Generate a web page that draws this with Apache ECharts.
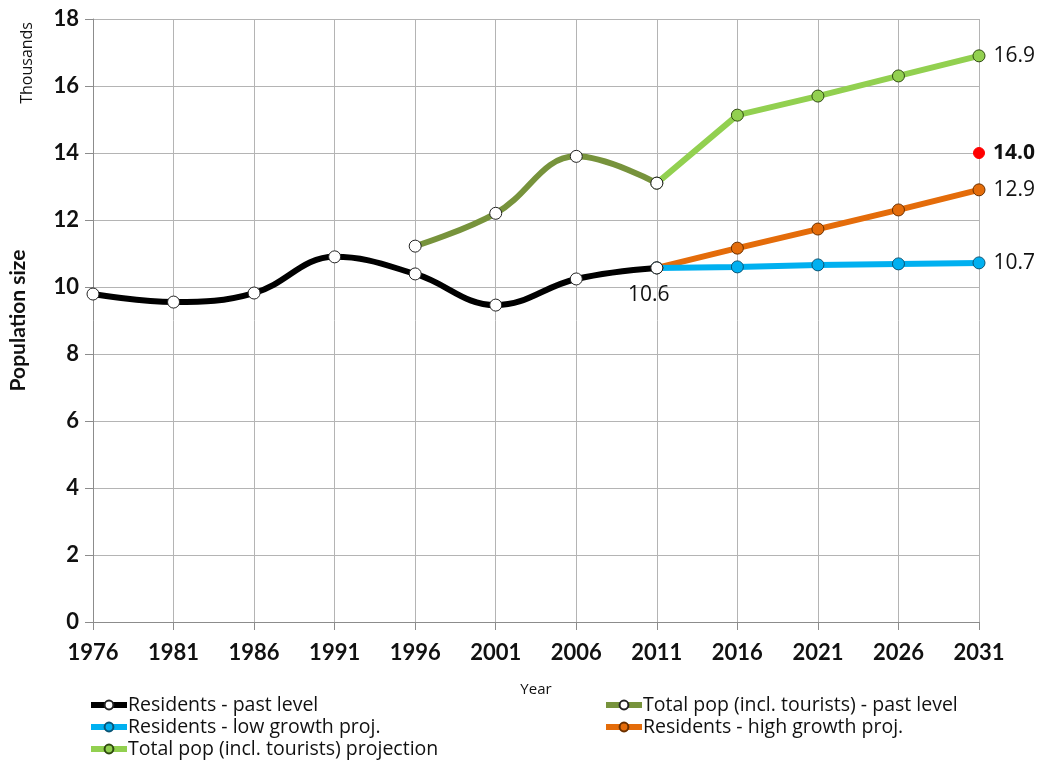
<!DOCTYPE html>
<html>
<head>
<meta charset="utf-8">
<script src="https://cdn.jsdelivr.net/npm/echarts@6/dist/echarts.min.js"></script>
<style>html,body{margin:0;padding:0;background:#fff}#c{width:1040px;height:763px}</style>
</head>
<body>
<div id="c"></div>
<script>
var years = ['1976','1981','1986','1991','1996','2001','2006','2011','2016','2021','2026','2031'];
var residentsPast = [9.79, 9.55, 9.82, 10.9, 10.39, 9.46, 10.24, 10.57, null, null, null, null];
var totalPast = [null, null, null, null, 11.22, 12.2, 13.9, 13.1, null, null, null, null];
var residentsLow = [null, null, null, null, null, null, null, 10.57, 10.6, 10.66, 10.69, 10.72];
var residentsHigh = [null, null, null, null, null, null, null, 10.57, 11.16, 11.73, 12.3, 12.9];
var totalProj = [null, null, null, null, null, null, null, 13.1, 15.13, 15.7, 16.3, 16.9];
var marker = [null, null, null, null, null, null, null, null, null, null, null, 14.0];
var yTicks = [0, 2, 4, 6, 8, 10, 12, 14, 16, 18];
var legendItems = [
  { name: 'Residents - past level', left: 88, top: 695 },
  { name: 'Residents - low growth proj.', left: 88, top: 717 },
  { name: 'Total pop (incl. tourists) projection', left: 88, top: 739 },
  { name: 'Total pop (incl. tourists) - past level', left: 603, top: 695 },
  { name: 'Residents - high growth proj.', left: 603, top: 717 }
];

var FONT = 'Lato';
var LFONT = 'Open Sans';
function lastLabel(arr, text, bold) {
  return arr.map(function (v, i) {
    if (i === arr.length - 1 && v != null) {
      return { value: v, label: { show: true, position: 'right', distance: 8, formatter: text,
        fontFamily: LFONT, fontSize: 21, fontWeight: bold ? 'bold' : 'normal', color: '#111' } };
    }
    return v;
  });
}
var rp = residentsPast.map(function (v, i) {
  if (i === 7) return { value: v, label: { show: true, position: 'bottom', offset: [-8, 5], formatter: '10.6',
    fontFamily: LFONT, fontSize: 21, color: '#111' } };
  return v;
});

var legends = legendItems.map(function (it) {
  return {
    left: it.left, top: it.top, padding: 0, itemWidth: 36, itemHeight: 11,
    textStyle: { fontFamily: LFONT, fontSize: 19.5, color: '#111', padding: [0, 0, 0, -4] },
    lineStyle: { width: 6 },
    data: [it.name]
  };
});

var chart = echarts.init(document.getElementById('c'));
chart.setOption({
  animation: false,
  textStyle: { fontFamily: FONT },
  grid: { left: 92, right: 61, top: 19, bottom: 141, containLabel: false },
  xAxis: {
    type: 'category', data: years, boundaryGap: false,
    name: 'Year', nameLocation: 'middle', nameGap: 60,
    nameTextStyle: { fontFamily: LFONT, fontSize: 15, color: '#111' },
    axisLine: { lineStyle: { color: '#8c8c8c', width: 1 } },
    axisTick: { show: true, length: 8, lineStyle: { color: '#8c8c8c' } },
    axisLabel: { margin: 20, fontFamily: FONT, fontSize: 22, fontWeight: 'bold', color: '#111' },
    splitLine: { show: true, lineStyle: { color: '#b4b4b4', width: 1 } }
  },
  yAxis: {
    type: 'value', min: 0, max: 18, interval: 2,
    name: 'Population size', nameLocation: 'middle', nameGap: 64, nameRotate: 90,
    nameTextStyle: { fontFamily: FONT, fontSize: 21, fontWeight: 'bold', color: '#111' },
    axisLine: { show: true, lineStyle: { color: '#8c8c8c', width: 1 } },
    axisTick: { show: true, length: 8, lineStyle: { color: '#8c8c8c' } },
    axisLabel: { margin: 14, fontFamily: FONT, fontSize: 22, fontWeight: 'bold', color: '#111',
      formatter: function (v) { return yTicks.indexOf(v) >= 0 ? String(v) : ''; } },
    splitLine: { show: true, lineStyle: { color: '#b4b4b4', width: 1 } }
  },
  graphic: [{
    type: 'text', left: 19, top: 22, rotation: Math.PI / 2,
    style: { text: 'Thousands', fontFamily: LFONT, fontSize: 16, fill: '#111' }
  }],
  legend: legends,
  series: [{
    name: 'Total pop (incl. tourists) projection', type: 'line', data: lastLabel(totalProj, '16.9'),
    connectNulls: false, smooth: false, symbol: 'circle', symbolSize: 12,
    lineStyle: { color: '#92D050', width: 6 },
    itemStyle: { color: '#92D050', borderColor: '#2f4a10', borderWidth: 1 }, z: 3
  }, {
    name: 'Residents - high growth proj.', type: 'line', data: lastLabel(residentsHigh, '12.9'),
    smooth: false, symbol: 'circle', symbolSize: 12,
    lineStyle: { color: '#E46C0A', width: 6 },
    itemStyle: { color: '#E46C0A', borderColor: '#6a3000', borderWidth: 1 }, z: 3
  }, {
    name: 'Residents - low growth proj.', type: 'line', data: lastLabel(residentsLow, '10.7'),
    smooth: false, symbol: 'circle', symbolSize: 12,
    lineStyle: { color: '#00B0F0', width: 6 },
    itemStyle: { color: '#00B0F0', borderColor: '#0a5575', borderWidth: 1 }, z: 3
  }, {
    name: 'Total pop (incl. tourists) - past level', type: 'line', data: totalPast,
    smooth: 0.4, symbol: 'circle', symbolSize: 12,
    lineStyle: { color: '#77933C', width: 6 },
    itemStyle: { color: '#ffffff', borderColor: '#222', borderWidth: 1 }, z: 4
  }, {
    name: 'Residents - past level', type: 'line', data: rp,
    smooth: 0.4, symbol: 'circle', symbolSize: 12,
    lineStyle: { color: '#000000', width: 6 },
    itemStyle: { color: '#ffffff', borderColor: '#222', borderWidth: 1 }, z: 5
  }, {
    name: 'marker', type: 'line', data: lastLabel(marker, '14.0', true),
    symbol: 'circle', symbolSize: 11, lineStyle: { width: 0 },
    itemStyle: { color: '#ff0000', borderColor: '#ff0000' }, z: 6
  }]
});
</script>
</body>
</html>
